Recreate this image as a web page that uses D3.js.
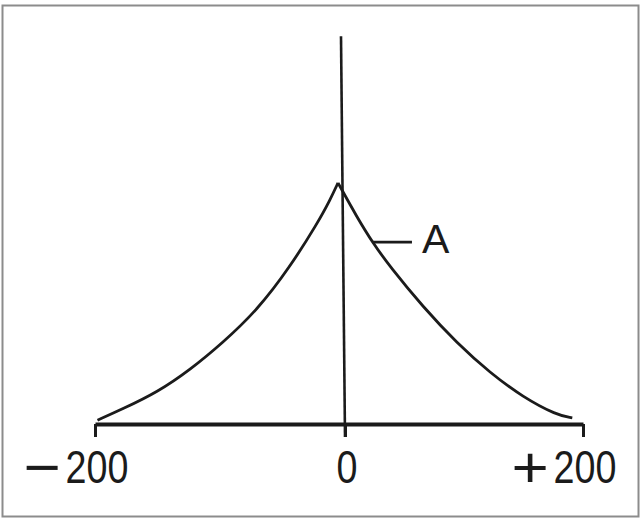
<!DOCTYPE html>
<html>
<head>
<meta charset="utf-8">
<script src="https://cdn.jsdelivr.net/npm/d3@7"></script>
<style>
    body { margin: 0; background: #fff; }
    svg { display: block; }
</style>
</head>
<body>
<div id="chart"></div>
<script>
// ************************************************************ DATA
var tickValues = [-200, 0, 200];
var tickLabels = ["\u2212200", "0", "+200"];

// curve, left branch goes up to the peak, right branch comes down
var leftX = [-198, -178, -150, -124, -98, -70, -44, -22, -12, -5.6];
var leftY = [1.0, 3.9, 8.3, 14.1, 21.1, 29.7, 40.9, 52.3, 58.3, 62.8];
var rightX = [-5.6, 10, 23.5, 38, 65.5, 94, 122, 149.5, 178, 191];
var rightY = [62.8, 53.9, 47.1, 40.9, 30.5, 21.1, 13.3, 7.0, 2.3, 1.6];

var curveLabel = "A";
var labelAt = [23.5, 47.1]; // point on the curve where the leader starts

// ************************************************************ SETUP
var width = 641, height = 518;
var ink = "#1b1b1b";

var svg = d3.select("#chart").append("svg")
    .attr("width", width)
    .attr("height", height);

svg.append("rect")
    .attr("width", width).attr("height", height)
    .attr("fill", "#fff");

// frame round the figure
svg.append("rect")
    .attr("x", 2.5).attr("y", 5.5)
    .attr("width", 636).attr("height", 511)
    .attr("fill", "none")
    .attr("stroke", "#8c8c8c")
    .attr("stroke-width", 2);

// hand drawn axis is not quite symmetric, so piecewise scale
var x = d3.scaleLinear().domain([-200, 0, 200]).range([95, 345, 583]);
var y = d3.scaleLinear().domain([0, 100]).range([424, 40]);

// ************************************************************ AXES
var xAxis = d3.axisBottom(x)
    .tickValues(tickValues)
    .tickSize(13)
    .tickSizeOuter(0)
    .tickFormat("");

var gx = svg.append("g")
    .attr("transform", "translate(0," + y(0) + ")")
    .call(xAxis);

gx.select(".domain")
    .attr("stroke", ink)
    .attr("stroke-width", 4);
gx.selectAll(".tick line")
    .attr("stroke", ink)
    .attr("stroke-width", 3);

// vertical axis, leans a little like in the drawing
svg.append("line")
    .attr("x1", x(0) - 4).attr("y1", y(101))
    .attr("x2", x(0)).attr("y2", y(0) + 13)
    .attr("stroke", ink)
    .attr("stroke-width", 2.6);

// tick labels: sign drawn bigger than the digits, digits condensed
var labels = svg.append("g").attr("fill", ink);

tickValues.forEach(function (v, i) {
    var lab = tickLabels[i];
    var sign = "";
    var digits = lab;
    if (lab[0] === "\u2212" || lab[0] === "+") {
        sign = lab[0];
        digits = lab.slice(1);
    }
    labels.append("text")
        .attr("transform", "translate(" + (x(v) + 2) + ",483) scale(0.82,1)")
        .attr("text-anchor", "middle")
        .style("font-family", "'Liberation Sans', Arial, Helvetica, sans-serif")
        .style("font-size", "46px")
        .text(digits);
    if (sign) {
        labels.append("text")
            .attr("transform", "translate(" + (x(v) - 53) + ",487) scale(1.1,1)")
            .attr("text-anchor", "middle")
            .style("font-family", "'Liberation Sans', Arial, Helvetica, sans-serif")
            .style("font-size", "58px")
            .text(sign);
    }
});

// ************************************************************ CURVE
// basis smooths out the reading noise, ends (and the peak) stay put
var line = d3.line()
    .x(function (d) { return x(d[0]); })
    .y(function (d) { return y(d[1]); })
    .curve(d3.curveBasis);

var branches = [d3.zip(leftX, leftY), d3.zip(rightX, rightY)];

svg.selectAll("path.branch")
    .data(branches)
    .enter().append("path")
    .attr("class", "branch")
    .attr("d", line)
    .attr("fill", "none")
    .attr("stroke", ink)
    .attr("stroke-width", 2.8)
    .attr("stroke-linejoin", "round");

// leader and label A
var lx = x(labelAt[0]), ly = y(labelAt[1]) - 1;
svg.append("line")
    .attr("x1", lx).attr("y1", ly)
    .attr("x2", lx + 39).attr("y2", ly)
    .attr("stroke", ink)
    .attr("stroke-width", 2.6);

svg.append("text")
    .attr("x", lx + 49)
    .attr("y", ly + 11)
    .attr("fill", ink)
    .style("font-family", "'Liberation Sans', Arial, Helvetica, sans-serif")
    .style("font-size", "41px")
    .text(curveLabel);
</script>
</body>
</html>
